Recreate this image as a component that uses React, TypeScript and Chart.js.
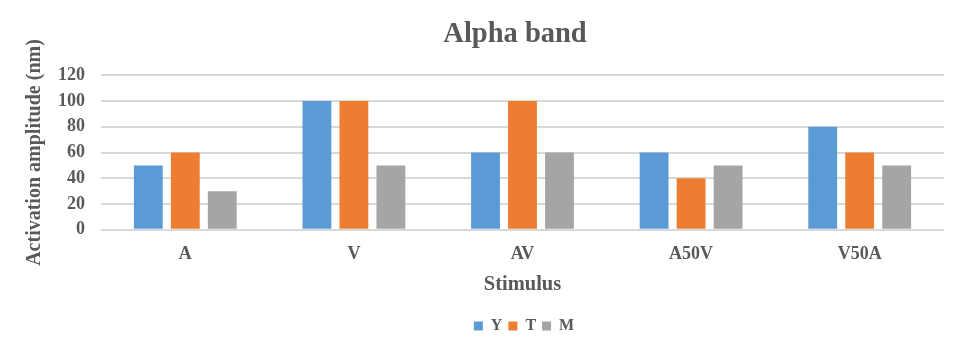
import React, { useEffect, useRef } from "react";
import { Chart, registerables } from "chart.js";

Chart.register(...registerables);

const categories = ["A", "V", "AV", "A50V", "V50A"];
const seriesNames = ["Y", "T", "M"];
const seriesY = [50, 100, 60, 60, 80];
const seriesT = [60, 100, 100, 40, 60];
const seriesM = [30, 50, 60, 50, 50];
const yTicks = [0, 20, 40, 60, 80, 100, 120];
const colors = ["#5B9BD5", "#ED7D31", "#A5A5A5"];

const FONT = "'Liberation Serif', 'Times New Roman', serif";
const TXT = "#595959";

const shiftBoxes = {
  id: "shiftBoxes",
  afterLayout(chart: any) {
    if (chart.legend) {
      chart.legend.left += 52;
      chart.legend.right += 52;
    }
    if (chart.titleBlock) {
      chart.titleBlock.left += 43;
      chart.titleBlock.right += 43;
    }
  },
};

export default function App() {
  const ref = useRef<HTMLCanvasElement | null>(null);
  useEffect(() => {
    document.body.style.margin = "0";
    const ctx = ref.current!;
    const chart = new Chart(ctx, {
      type: "bar",
      data: {
        labels: categories,
        datasets: [seriesY, seriesT, seriesM].map((d, i) => ({
          label: seriesNames[i],
          data: d,
          backgroundColor: colors[i],
          borderWidth: 0,
          categoryPercentage: 0.658,
          barPercentage: 0.78,
        })),
      },
      plugins: [shiftBoxes],
      options: {
        animation: false,
        responsive: false,
        devicePixelRatio: 1,
        layout: { padding: { left: 0, right: 24, top: 10, bottom: 20 } },
        plugins: {
          title: {
            display: true,
            text: "Alpha band",
            color: TXT,
            font: { family: FONT, size: 28.5, weight: "bold" },
            padding: { top: 8, bottom: 23 },
          },
          legend: {
            position: "bottom",
            labels: {
              color: TXT,
              font: { family: FONT, size: 16, weight: "bold" },
              boxWidth: 9,
              boxHeight: 9,
              padding: 6,
            },
          },
          tooltip: { enabled: false },
        },
        scales: {
          x: {
            grid: { display: false },
            border: { display: false },
            ticks: { color: TXT, font: { family: FONT, size: 18, weight: "bold" }, padding: 6 },
            title: {
              display: true,
              text: "Stimulus",
              color: TXT,
              font: { family: FONT, size: 20.5, weight: "bold" },
              padding: { top: 1, bottom: 15 },
            },
          },
          y: {
            min: 0,
            max: 120,
            afterFit: (s: any) => {
              s.width = 101;
            },
            afterBuildTicks: (s: any) => {
              s.ticks = yTicks.map((v) => ({ value: v }));
            },
            grid: { color: "#D9D9D9", lineWidth: 2, drawTicks: false },
            border: { display: false },
            ticks: {
              color: TXT,
              font: { family: FONT, size: 18, weight: "bold" },
              padding: 16,
              autoSkip: false,
            },
            title: {
              display: true,
              text: "Activation amplitude (nm)",
              color: TXT,
              font: { family: FONT, size: 20, weight: "bold" },
              padding: { top: 23, bottom: 0 },
            },
          },
        },
      },
    });
    return () => chart.destroy();
  }, []);
  return (
    <div style={{ width: 968, height: 364 }}>
      <canvas ref={ref} width={968} height={364} style={{ display: "block" }} />
    </div>
  );
}
